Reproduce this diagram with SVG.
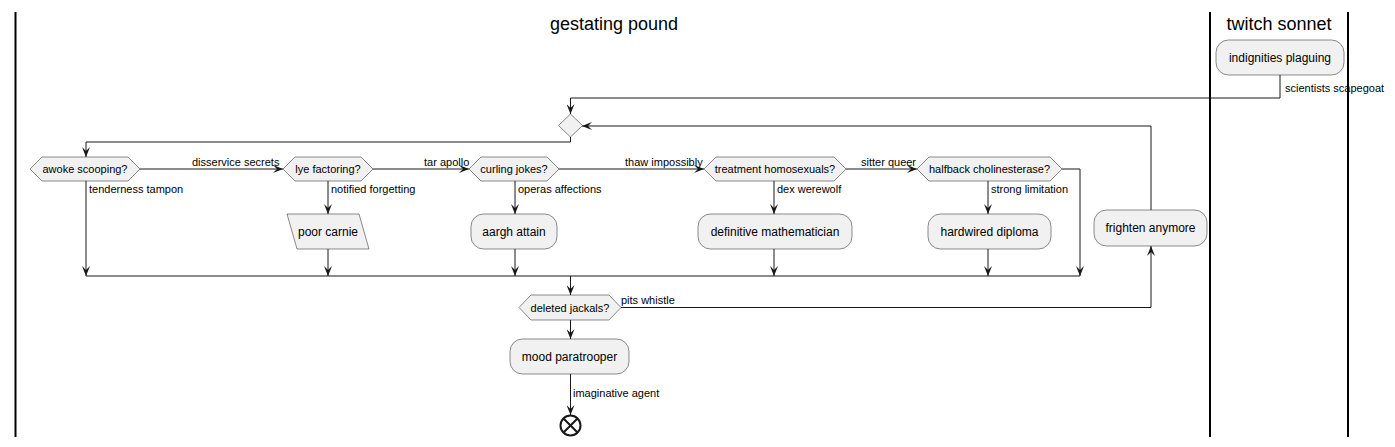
<svg xmlns="http://www.w3.org/2000/svg" width="1395" height="447" viewBox="0 0 1395 447">
<style>
text{font-family:"Liberation Sans",Arial,sans-serif;fill:#000}
.title{font-size:18px;text-anchor:middle}
.act{font-size:12px;text-anchor:middle}
.cond{font-size:11px;text-anchor:middle}
.lbl{font-size:11px}
.box{fill:#F1F1F1;stroke:#181818;stroke-width:0.5}
.lane{stroke:#000;stroke-width:2}
.edge{fill:none;stroke:#181818;stroke-width:1}
.arr{fill:none;stroke:#181818;stroke-width:1;marker-end:url(#ah)}
</style>
<defs>
<marker id="ah" viewBox="0 0 10 8" refX="10" refY="4" markerWidth="10" markerHeight="8" markerUnits="userSpaceOnUse" orient="auto">
<path d="M0,0 L10,4 L0,8 L4,4 Z" fill="#181818"/>
</marker>
</defs>
<rect width="1395" height="447" fill="#FFFFFF"/>
<g id="lanes">
<line class="lane" x1="15.5" y1="12" x2="15.5" y2="437"/>
<line class="lane" x1="1210" y1="12" x2="1210" y2="437"/>
<line class="lane" x1="1348" y1="12" x2="1348" y2="437"/>
<text class="title" x="614" y="30">gestating pound</text>
<text class="title" x="1279" y="30">twitch sonnet</text>
</g>
<g id="connectors">
<path class="arr" d="M1280,75 V98 H570.5 V114"/>
<path class="arr" d="M1151,210 V126 H582"/>
<path class="arr" d="M570.5,137 V142 H86 V157"/>
<path class="arr" d="M140,169 H283"/>
<path class="arr" d="M86,181 V276"/>
<path class="arr" d="M328,181 V214"/>
<path class="arr" d="M328,249 V276"/>
<path class="arr" d="M373,169 H469"/>
<path class="arr" d="M515,181 V214"/>
<path class="arr" d="M515,249 V276"/>
<path class="arr" d="M559,169 H704"/>
<path class="arr" d="M774,181 V214"/>
<path class="arr" d="M774,249 V276"/>
<path class="arr" d="M846,169 H917"/>
<path class="arr" d="M988,181 V214"/>
<path class="arr" d="M988,249 V276"/>
<path class="arr" d="M1062,169 H1080 V276"/>
<path class="edge" d="M86,276 H1080"/>
<path class="arr" d="M570.5,276 V295"/>
<path class="arr" d="M621,307.5 H1151 V246"/>
<path class="arr" d="M570.5,320 V339"/>
<path class="arr" d="M570.5,374 V415"/>
<text class="lbl" x="1285" y="92">scientists scapegoat</text>
<text class="lbl" x="192" y="166">disservice secrets</text>
<text class="lbl" x="89" y="193">tenderness tampon</text>
<text class="lbl" x="331" y="193">notified forgetting</text>
<text class="lbl" x="424" y="166">tar apollo</text>
<text class="lbl" x="518" y="193">operas affections</text>
<text class="lbl" x="625" y="166">thaw impossibly</text>
<text class="lbl" x="777" y="193">dex werewolf</text>
<text class="lbl" x="861" y="166">sitter queer</text>
<text class="lbl" x="991" y="193">strong limitation</text>
<text class="lbl" x="621" y="304">pits whistle</text>
<text class="lbl" x="573" y="397">imaginative agent</text>
</g>
<g id="indignities-plaguing">
<rect class="box" x="1216" y="40" width="128" height="35" rx="12.5"/>
<text class="act" x="1280" y="62">indignities plaguing</text>
</g>
<g id="merge-diamond">
<polygon class="box" points="570.5,114 582.5,125.5 570.5,137 558.5,125.5"/>
</g>
<g id="awoke-scooping">
<polygon class="box" points="30,169 42,157 128,157 140,169 128,181 42,181"/>
<text class="cond" x="85" y="173">awoke scooping?</text>
</g>
<g id="lye-factoring">
<polygon class="box" points="283,169 295,157 361,157 373,169 361,181 295,181"/>
<text class="cond" x="328" y="173">lye factoring?</text>
</g>
<g id="poor-carnie">
<polygon class="box" points="287,214 359,214 369,249 297,249"/>
<text class="act" x="328" y="236">poor carnie</text>
</g>
<g id="curling-jokes">
<polygon class="box" points="469,169 481,157 547,157 559,169 547,181 481,181"/>
<text class="cond" x="514" y="173">curling jokes?</text>
</g>
<g id="aargh-attain">
<rect class="box" x="471" y="214" width="86" height="35" rx="12.5"/>
<text class="act" x="514" y="236">aargh attain</text>
</g>
<g id="treatment-homosexuals">
<polygon class="box" points="704,169 716,157 834,157 846,169 834,181 716,181"/>
<text class="cond" x="775" y="173">treatment homosexuals?</text>
</g>
<g id="definitive-mathematician">
<rect class="box" x="698" y="214" width="154" height="35" rx="12.5"/>
<text class="act" x="775" y="236">definitive mathematician</text>
</g>
<g id="halfback-cholinesterase">
<polygon class="box" points="917,169 929,157 1050,157 1062,169 1050,181 929,181"/>
<text class="cond" x="989.5" y="173">halfback cholinesterase?</text>
</g>
<g id="hardwired-diploma">
<rect class="box" x="928" y="214" width="123" height="35" rx="12.5"/>
<text class="act" x="989.5" y="236">hardwired diploma</text>
</g>
<g id="frighten-anymore">
<rect class="box" x="1094" y="210" width="113" height="36" rx="12.5"/>
<text class="act" x="1150.5" y="232">frighten anymore</text>
</g>
<g id="deleted-jackals">
<polygon class="box" points="519,307.5 531,295 609,295 621,307.5 609,320 531,320"/>
<text class="cond" x="570" y="311.5">deleted jackals?</text>
</g>
<g id="mood-paratrooper">
<rect class="box" x="510" y="339" width="119" height="35" rx="12.5"/>
<text class="act" x="569.5" y="361">mood paratrooper</text>
</g>
<g id="end">
<circle cx="570.5" cy="425.5" r="10" fill="#FFFFFF" stroke="#181818" stroke-width="2"/>
<path d="M563.5,418.5 L577.5,432.5 M577.5,418.5 L563.5,432.5" stroke="#181818" stroke-width="2"/>
</g>
</svg>
